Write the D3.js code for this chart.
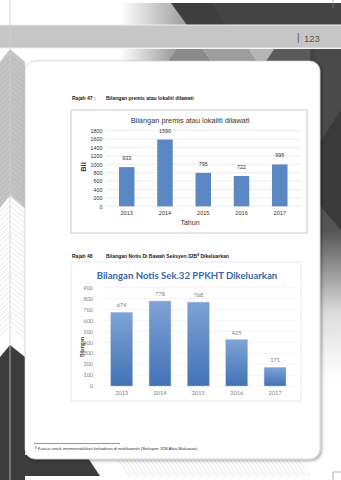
<!DOCTYPE html>
<html><head><meta charset="utf-8">
<script src="https://cdn.jsdelivr.net/npm/d3@7"></script>
<style>body{margin:0;background:#fff}svg{display:block}.dk{fill:#333333}</style>
</head><body>
<script>
// ---- data ----
const years = ["2013","2014","2015","2016","2017"];
const premisValues = [933, 1590, 795, 722, 996];
const premisTicks = [0,200,400,600,800,1000,1200,1400,1600,1800];
const notisValues = [674, 778, 768, 425, 171];
const notisTicks = [0,100,200,300,400,500,600,700,800,900];

const W = 341, H = 480;
const svg = d3.select("body").append("svg").attr("width", W).attr("height", H);
const defs = svg.append("defs");

// ---- page decoration ----
const g1 = defs.append("linearGradient").attr("id","topfade").attr("x1","0").attr("x2","1");
g1.append("stop").attr("offset","0").attr("stop-color","#fff");
g1.append("stop").attr("offset","1").attr("stop-color","#9a9a9a");
const g2 = defs.append("linearGradient").attr("id","rightfade").attr("x1","0").attr("x2","0").attr("y1","0").attr("y2","1");
g2.append("stop").attr("offset","0").attr("stop-color","#444");
g2.append("stop").attr("offset","0.55").attr("stop-color","#555");
g2.append("stop").attr("offset","0.8").attr("stop-color","#ddd");
g2.append("stop").attr("offset","1").attr("stop-color","#fff");
const g3 = defs.append("linearGradient").attr("id","barfill").attr("x1","0").attr("x2","0").attr("y1","0").attr("y2","1");
g3.append("stop").attr("offset","0").attr("stop-color","#7fa3d6");
g3.append("stop").attr("offset","1").attr("stop-color","#4272b6");
const flt = defs.append("filter").attr("id","shadow").attr("x","-5%").attr("y","-5%").attr("width","110%").attr("height","110%");
flt.append("feDropShadow").attr("dx",1.5).attr("dy",1.5).attr("stdDeviation",1.5).attr("flood-color","#000").attr("flood-opacity",0.35);

const deco = svg.append("g");
deco.append("path").attr("d","M120,3 L175,3 L188,25 L120,25 Z").attr("fill","url(#topfade)");
deco.append("path").attr("d","M171,3 L341,3 L341,25 L187,25 Z").attr("fill","#3e3e3e");
deco.append("path").attr("d","M212,3 L341,3 L341,25 L226,25 Z").attr("fill","#444");
deco.append("rect").attr("x",0).attr("y",25).attr("width",W).attr("height",23).attr("fill","#c6c6c6");
deco.append("line").attr("x1",0).attr("x2",W).attr("y1",25).attr("y2",25).attr("stroke","#eee").attr("stroke-width",1);
deco.append("line").attr("x1",0).attr("x2",W).attr("y1",48).attr("y2",48).attr("stroke","#eee").attr("stroke-width",1);
deco.append("text").attr("x",297).attr("y",41).attr("font-family","Liberation Sans, Arial").attr("font-size",10).attr("fill","#555").text("|");
deco.append("text").attr("x",304).attr("y",41.5).attr("font-family","Liberation Sans Narrow, Liberation Sans").attr("font-size",9.5).attr("fill","#555").text("123");
deco.append("path").attr("d","M120,49 L176,49 L168,61 L120,61 Z").attr("fill","url(#topfade)");
deco.append("path").attr("d","M176,49 L203,49 L211,61 L168,61 Z").attr("fill","#8a8a8a");
deco.append("path").attr("d","M203,49 L249,49 L257,61 L211,61 Z").attr("fill","#9d9d9d");
deco.append("path").attr("d","M249,49 L274,49 L266,61 L257,61 Z").attr("fill","#b5b5b5");
deco.append("path").attr("d","M274,49 L341,49 L341,61 L266,61 Z").attr("fill","#5a5a5a");
deco.append("rect").attr("x",310).attr("y",49).attr("width",31).attr("height",330).attr("fill","url(#rightfade)");
deco.append("path").attr("d","M315,49 L341,49 L341,120 L315,160 Z").attr("fill","#4a4a4a");
deco.append("path").attr("d","M315,150 L341,110 L341,230 L315,200 Z").attr("fill","#3a3a3a");
deco.append("path").attr("d","M0,62 L10,49 L25,62 L25,208 L10,195 L0,208 Z").attr("fill","#c4c4c4");
for (let y = 56; y < 330; y += 5) {
  const c = y < 200 ? "#b0b0b0" : "#d8d8d8";
  deco.append("path").attr("d",`M0,${y+10} L10,${y} L25,${y+12}`).attr("fill","none").attr("stroke",c).attr("stroke-width",0.6);
}
deco.append("path").attr("d","M0,357 L10,345 L25,357 L25,480 L0,480 Z").attr("fill","#3c3c3c");
deco.append("path").attr("d","M0,455 L86,455 L100,476 L0,476 Z").attr("fill","#3c3c3c");
for (let x = 118; x < 300; x += 4) {
  deco.append("line").attr("x1",x).attr("y1",460).attr("x2",x+12).attr("y2",476).attr("stroke","#d6d6d6").attr("stroke-width",0.6);
}
deco.append("line").attr("x1",10).attr("x2",10).attr("y1",0).attr("y2",H).attr("stroke","#cfcfcf").attr("stroke-width",0.8);
deco.append("path").attr("d","M333,480 L333,472 M333,472 L341,472").attr("stroke","#888").attr("stroke-width",0.6).attr("fill","none");
deco.append("path").attr("d","M333,0 L333,8").attr("stroke","#888").attr("stroke-width",0.6).attr("fill","none");
svg.append("rect").attr("x",25).attr("y",61).attr("width",295).attr("height",398).attr("rx",10)
  .attr("fill","#fff").attr("stroke","#d0d0d0").attr("stroke-width",0.7).attr("filter","url(#shadow)");

// ---- Chart 1 ----
const cap = svg.append("g").attr("font-family","Liberation Sans, Arial").attr("font-size",5).attr("font-weight","bold").attr("fill","#222");
cap.append("text").attr("x",72).attr("y",100).text("Rajah 47 :");
cap.append("text").attr("x",106).attr("y",100).text("Bilangan premis atau lokaliti dilawati");

const c1 = svg.append("g").attr("font-family","Liberation Sans, Arial");
c1.append("rect").attr("x",71).attr("y",110).attr("width",236).attr("height",123).attr("fill","#fff").attr("stroke","#bdbdbd").attr("stroke-width",0.8);
c1.append("text").attr("class","dk").attr("x",190).attr("y",122.5).attr("text-anchor","middle").attr("font-size",7.4).style("fill","#333").text("Bilangan premis atau lokaliti dilawati");
const x1 = d3.scaleBand().domain(years).range([107.5,299]).paddingInner(0.595).paddingOuter(0.3);
const y1 = d3.scaleLinear().domain([0,1800]).range([206.3,130.7]);
c1.append("g").selectAll("line").data(premisTicks).join("line")
  .attr("x1",106).attr("x2",300).attr("y1",d=>y1(d)).attr("y2",d=>y1(d)).attr("stroke","#d9d9d9").attr("stroke-width",0.5);
const ax1 = c1.append("g").attr("transform","translate(106,0)")
  .call(d3.axisLeft(y1).tickValues(premisTicks).tickFormat(d3.format("d")).tickSize(0).tickPadding(3.5));
ax1.select(".domain").remove();
ax1.selectAll("text").attr("font-size",5.4).style("fill","#333").attr("font-family","Liberation Sans, Arial");
c1.append("g").selectAll("rect").data(premisValues).join("rect")
  .attr("x",(d,i)=>x1(years[i])).attr("width",x1.bandwidth())
  .attr("y",d=>y1(d)).attr("height",d=>y1(0)-y1(d)).attr("fill","#5b87c5");
c1.append("g").selectAll("text").data(premisValues).join("text")
  .attr("x",(d,i)=>x1(years[i])+x1.bandwidth()/2).attr("y",d=>y1(d)-7)
  .attr("text-anchor","middle").attr("font-size",5.4).style("fill","#333").text(d=>d);
const bx1 = c1.append("g").attr("transform",`translate(0,${y1(0)})`).call(d3.axisBottom(x1).tickSize(0).tickPadding(5));
bx1.select(".domain").remove();
bx1.selectAll("text").attr("font-size",5.6).style("fill","#333").attr("font-family","Liberation Sans, Arial");
c1.append("text").attr("x",190).attr("y",224.5).attr("text-anchor","middle").attr("font-size",7).style("fill","#333").text("Tahun");
c1.append("text").attr("transform","translate(86,167) rotate(-90)").attr("text-anchor","middle").attr("font-size",7.5).attr("font-weight","bold").style("fill","#333").text("Bil");

// ---- Chart 2 ----
const cap2 = svg.append("g").attr("font-family","Liberation Sans, Arial").attr("font-size",5).attr("font-weight","bold").attr("fill","#222");
cap2.append("text").attr("x",72).attr("y",258).text("Rajah 48");
const ct = cap2.append("text").attr("x",106).attr("y",258).text("Bilangan Notis Di Bawah Seksyen 32B");
ct.append("tspan").attr("font-size",3.5).attr("dy",-1.8).text("8");
ct.append("tspan").attr("dy",1.8).text(" Dikeluarkan");

const c2 = svg.append("g").attr("font-family","Lato, Open Sans, sans-serif");
c2.append("rect").attr("x",71).attr("y",262).attr("width",230).attr("height",139).attr("fill","#fff").attr("stroke","#dfe5ec").attr("stroke-width",0.8);
c2.append("text").attr("x",187).attr("y",279).attr("text-anchor","middle").attr("font-size",9.6).attr("font-weight","bold").attr("fill","#3a67a5").text("Bilangan Notis Sek.32 PPKHT Dikeluarkan");
const x2 = d3.scaleBand().domain(years).range([102.5,294.2]).paddingInner(0.43).paddingOuter(0.215);
const y2 = d3.scaleLinear().domain([0,900]).range([386,287.7]);
c2.append("g").selectAll("line").data(notisTicks).join("line")
  .attr("x1",102).attr("x2",297).attr("y1",d=>y2(d)).attr("y2",d=>y2(d)).attr("stroke","#e6e6e6").attr("stroke-width",0.5);
const ax2 = c2.append("g").attr("transform","translate(102,0)")
  .call(d3.axisLeft(y2).tickValues(notisTicks).tickFormat(d3.format("d")).tickSize(0).tickPadding(9));
ax2.select(".domain").remove();
ax2.selectAll("text").attr("font-size",5.4).attr("fill","#808080").attr("font-family","Lato, Open Sans, sans-serif");
c2.append("g").selectAll("rect").data(notisValues).join("rect")
  .attr("x",(d,i)=>x2(years[i])).attr("width",x2.bandwidth())
  .attr("y",d=>y2(d)).attr("height",d=>y2(0)-y2(d)).attr("fill","url(#barfill)").attr("stroke","#a9c0e2").attr("stroke-width",0.4);
c2.append("g").selectAll("text").data(notisValues).join("text")
  .attr("x",(d,i)=>x2(years[i])+x2.bandwidth()/2).attr("y",d=>y2(d)-5)
  .attr("text-anchor","middle").attr("font-size",5.6).attr("fill","#808080").text(d=>d);
const bx2 = c2.append("g").attr("transform",`translate(0,${y2(0)})`).call(d3.axisBottom(x2).tickSize(0).tickPadding(5));
bx2.select(".domain").remove();
bx2.selectAll("text").attr("font-size",5.6).attr("fill","#808080").attr("font-family","Lato, Open Sans, sans-serif");
c2.append("text").attr("transform","translate(84,347) rotate(-90)").attr("text-anchor","middle").attr("font-size",5.2).attr("font-weight","bold").attr("fill","#444").text("Bilangan");

// ---- footnote ----
svg.append("line").attr("x1",34).attr("x2",120).attr("y1",443.5).attr("y2",443.5).attr("stroke","#333").attr("stroke-width",0.5);
const fn = svg.append("text").attr("x",35).attr("y",450).attr("font-family","Liberation Sans Narrow, Liberation Sans").attr("font-size",4.3).attr("fill","#333");
fn.append("tspan").attr("font-size",3).attr("dy",-1.3).text("8");
fn.append("tspan").attr("dy",1.3).text(" Kuasa untuk memerintahkan kehadiran di mahkamah (Seksyen 32B Akta Makanan)");
</script>
</body></html>
